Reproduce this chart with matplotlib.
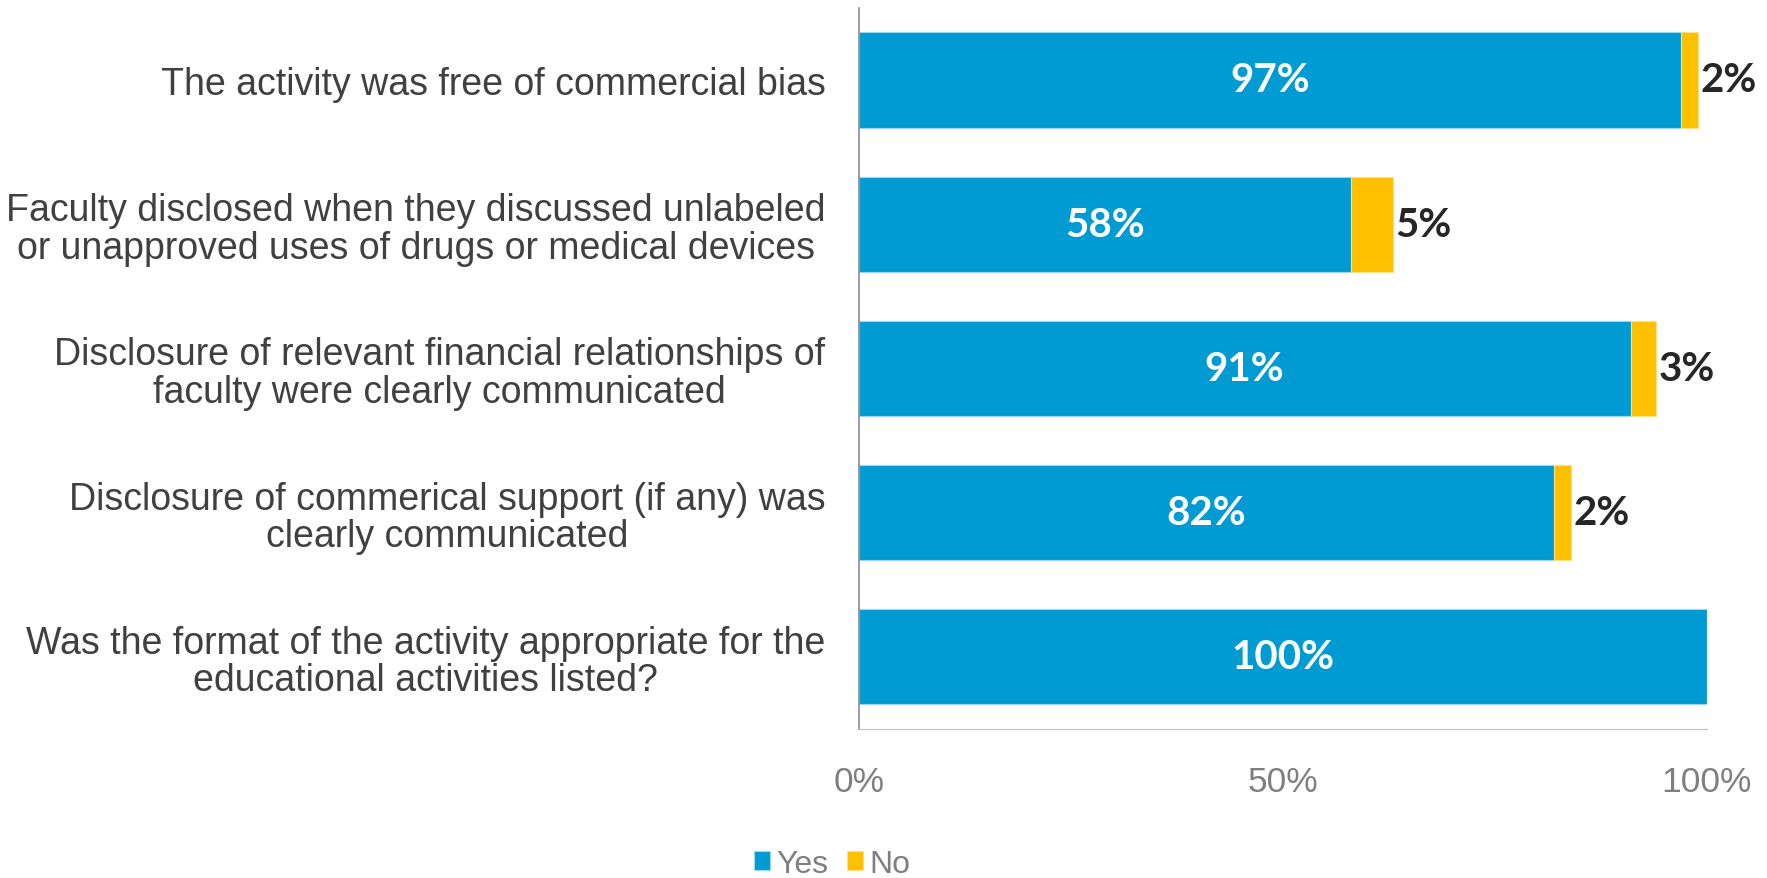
import matplotlib.pyplot as plt
import numpy as np

plt.rcParams['font.family'] = ['Liberation Sans', 'DejaVu Sans']

questions = [
    "The activity was free of commercial bias",
    "Faculty disclosed when they discussed unlabeled\nor unapproved uses of drugs or medical devices",
    "Disclosure of relevant financial relationships of\nfaculty were clearly communicated",
    "Disclosure of commerical support (if any) was\nclearly communicated",
    "Was the format of the activity appropriate for the\neducational activities listed?",
]
yes = [97, 58, 91, 82, 100]
no = [2, 5, 3, 2, 0]

blue = '#009BD2'
gold = '#FFC000'

fig = plt.figure(figsize=(17.67, 8.79), dpi=100)
ax = fig.add_axes([0.486, 0.1695, 0.48, 0.8205])

y = np.arange(len(questions))[::-1]
h = 0.66
b1 = ax.barh(y, yes, height=h, color=blue, edgecolor='#9DD6EE', linewidth=0.8, label='Yes')
b2 = ax.barh(y, no, height=h, left=yes, color=gold, edgecolor='#FFE08A', linewidth=0.8, label='No')

lab_font = dict(family=['Lato', 'DejaVu Sans'], fontweight='bold', fontsize=29)
for yi, a, b in zip(y, yes, no):
    ax.text(a / 2, yi, f"{a}%", ha='center', va='center', color='white', **lab_font)
    if b > 0:
        # narrow segments get their label just past the end of the bar
        if b <= 5:
            ax.text(a + b + 0.3, yi, f"{b}%", ha='left', va='center', color='#262626', **lab_font)
        else:
            ax.text(a + b / 2, yi, f"{b}%", ha='center', va='center', color='#262626', **lab_font)

ax.set_xlim(0, 100)
ax.set_ylim(-0.5, 4.5)
ax.set_xticks([0, 50, 100])
ax.set_xticklabels(['0%', '50%', '100%'])
ax.set_yticks(y)
ax.set_yticklabels(questions)
for lbl in ax.get_yticklabels():
    lbl.set_multialignment('center')
    lbl.set_linespacing(1.05)

ax.tick_params(axis='x', length=0, pad=26, labelsize=25.5, labelcolor='#7F7F7F')
ax.tick_params(axis='y', length=0, pad=24, labelsize=27, labelcolor='#404040')
for s in ['top', 'right']:
    ax.spines[s].set_visible(False)
ax.spines['left'].set_color('#8C8C8C')
ax.spines['bottom'].set_color('#BFBFBF')
ax.spines['left'].set_linewidth(1.2)

leg = fig.legend(handles=[b1, b2], labels=['Yes', 'No'], loc='center', bbox_to_anchor=(0.471, 0.016),
                 ncol=2, frameon=False, fontsize=23, handlelength=0.5, handleheight=0.5,
                 handletextpad=0.2, columnspacing=0.6)
for t in leg.get_texts():
    t.set_color('#7F7F7F')

fig.savefig('out.png', dpi=100)
